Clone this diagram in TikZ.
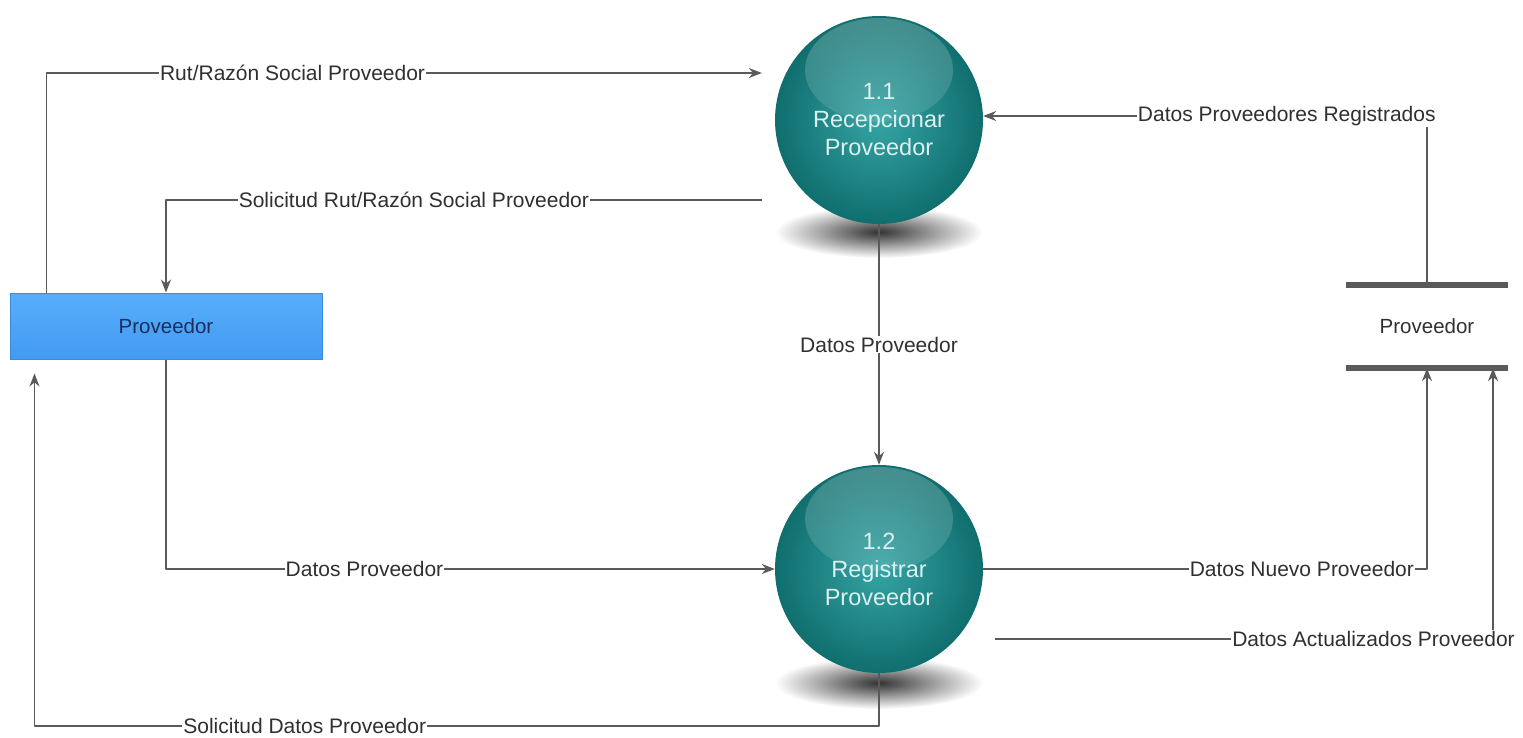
\documentclass[tikz,border=0pt]{standalone}
\usepackage{fontspec}
\setmainfont{Liberation Sans}
\usetikzlibrary{arrows.meta,fadings,backgrounds}
\definecolor{flujo}{HTML}{5A5A5A}
\definecolor{texto}{HTML}{303030}
\definecolor{tealclaro}{HTML}{35A4A4}
\definecolor{tealoscuro}{HTML}{106E6E}
\definecolor{textoesfera}{HTML}{DDF0F0}
\definecolor{azulclaro}{HTML}{58ADFB}
\definecolor{azuloscuro}{HTML}{429AF2}
\definecolor{azulborde}{HTML}{3A8BDE}
\definecolor{azultexto}{HTML}{1B2F5A}
\begin{document}
\begin{tikzpicture}[x=1pt, y=-1pt, line join=round, >={Stealth[length=13pt,width=10pt]},
	flecha/.style={->, draw=flujo, line width=1.5pt},
	etiq/.style={fill=white, inner sep=1pt, text=texto, font=\fontsize{21}{25}\selectfont},
	proceso/.style={circle, minimum size=208pt, inner sep=0pt, align=center, text=textoesfera,
		font=\fontsize{23.5}{28}\selectfont, inner color=tealclaro, outer color=tealoscuro,
		path picture={\fill[white, opacity=.22, path fading=south] ([yshift=50pt]path picture bounding box.center) ellipse [x radius=74pt, y radius=52pt];}},
	entidad/.style={rectangle, minimum width=312pt, minimum height=66pt, draw=azulborde, line width=1pt,
		top color=azulclaro, bottom color=azuloscuro, text=azultexto, font=\fontsize{20.5}{24}\selectfont},
	almacen/.style={minimum width=162pt, minimum height=83pt, inner sep=0pt, text=texto, font=\fontsize{20.5}{24}\selectfont},
	barra/.style={draw=flujo, line width=6pt},
	sombra/.style={inner color=black!80, outer color=white}]
	\useasboundingbox (0,0) rectangle (1523,738);
	\node[proceso] (p11) at (879,120) {1.1\\Recepcionar\\Proveedor};
	\node[proceso] (p12) at (879,569) {1.2\\Registrar\\Proveedor};
	\node[entidad] (ext) at (166,326) {Proveedor};
	\node[almacen] (ds) at (1427,326.5) {Proveedor};
	\draw[barra] (ds.north west)--(ds.north east);
	\draw[barra] (ds.south west)--(ds.south east);
	\begin{scope}[on background layer]% sombras
		\shade[sombra] ([yshift=-112pt]p11.center) ellipse [x radius=104pt, y radius=26pt];
		\shade[sombra] ([yshift=-114pt]p12.center) ellipse [x radius=104pt, y radius=26pt];
	\end{scope}
	\draw[flecha] ([xshift=37pt]ext.north west) |- node[etiq, pos=0.672] {Rut/Razón Social Proveedor} ([xshift=-13pt,yshift=47pt]p11.west);
	\draw[flecha] ([xshift=-13pt,yshift=-80pt]p11.west) -| node[etiq, pos=0.292] {Solicitud Rut/Razón Social Proveedor} (ext.north);
	\draw[flecha] (ds.north) |- node[etiq, pos=0.658] {Datos Proveedores Registrados} ([yshift=4pt]p11.east);
	\draw[flecha] (p11.south) -- node[etiq] {Datos Proveedor} (p12.north);
	\draw[flecha] (ext.south) |- node[etiq, pos=0.663] {Datos Proveedor} (p12.west);
	\draw[flecha] (p12.south) -- ++(0,53) -| node[etiq, pos=0.34] {Solicitud Datos Proveedor} ([xshift=25pt,yshift=-14pt]ext.south west);
	\draw[flecha] (p12.east) -| node[etiq, pos=0.359] {Datos Nuevo Proveedor} (ds.south);
	\draw[flecha] ([xshift=12pt,yshift=-70pt]p12.east) -| node[etiq, pos=0.38] {Datos Actualizados Proveedor} ([xshift=66pt]ds.south);
\end{tikzpicture}
\end{document}
